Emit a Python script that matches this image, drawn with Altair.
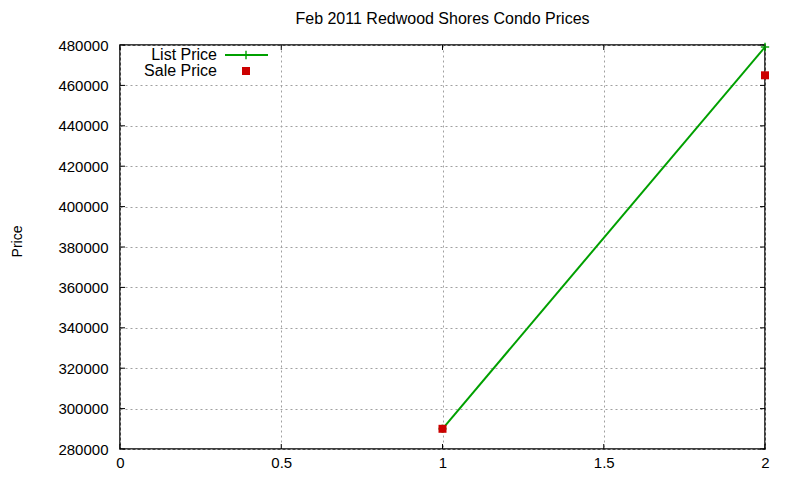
"""Feb 2011 Redwood Shores condo prices, gnuplot look."""

import pandas as pd
import altair as alt

# data
units = [1, 2]
list_price = [290000, 479000]
sale_price = [290000, 465000]

x_ticks = [0, 0.5, 1, 1.5, 2]
y_ticks = list(range(280000, 480001, 20000))

FONT = "Liberation Sans"
GREEN = "#00a000"
RED = "#cc0000"
W, H = 645, 404

df = pd.DataFrame({"unit": units, "list": list_price, "sale": sale_price})
xt = pd.DataFrame({"t": x_ticks})
yt = pd.DataFrame({"t": y_ticks})

xscale = alt.Scale(domain=[0, 2], nice=False)
yscale = alt.Scale(domain=[280000, 480000], nice=False, zero=False)

xaxis = alt.Axis(values=x_ticks, title=None, labelPadding=6, format="~g", labelFlush=False)
yaxis = alt.Axis(
    values=y_ticks, title="Price", labelPadding=12, format="d", labelFlush=False,
    titleX=-99, titleY=196, titleFontSize=14, titleAlign="center",
    titleBaseline="alphabetic",
)

base = alt.Chart(df)

line = base.mark_line(color=GREEN, strokeWidth=2, clip=True).encode(
    x=alt.X("unit:Q", scale=xscale, axis=xaxis),
    y=alt.Y("list:Q", scale=yscale, axis=yaxis),
)
plus = base.mark_point(
    shape="M-1,0L1,0M0,-1L0,1", color=GREEN, size=70, strokeWidth=2
).encode(
    x=alt.X("unit:Q", scale=xscale, axis=xaxis),
    y=alt.Y("list:Q", scale=yscale, axis=yaxis),
)
sale = base.mark_square(color=RED, size=64, opacity=1).encode(
    x=alt.X("unit:Q", scale=xscale, axis=xaxis),
    y=alt.Y("sale:Q", scale=yscale, axis=yaxis),
)

# inward, mirrored ticks
tick_len = 5
yl = alt.Chart(yt).mark_rule(color="black").encode(
    y=alt.Y("t:Q", scale=yscale, axis=yaxis), x=alt.value(0), x2=alt.value(tick_len)
)
yr = alt.Chart(yt).mark_rule(color="black").encode(
    y=alt.Y("t:Q", scale=yscale, axis=yaxis), x=alt.value(W - tick_len), x2=alt.value(W)
)
xb = alt.Chart(xt).mark_rule(color="black").encode(
    x=alt.X("t:Q", scale=xscale, axis=xaxis), y=alt.value(H - tick_len), y2=alt.value(H)
)
xtop = alt.Chart(xt).mark_rule(color="black").encode(
    x=alt.X("t:Q", scale=xscale, axis=xaxis), y=alt.value(0), y2=alt.value(tick_len)
)

# key, top left inside the frame
key = pd.DataFrame({"label": ["List Price", "Sale Price"], "ky": [10, 26]})
key_text = alt.Chart(key).mark_text(
    align="right", baseline="middle", font=FONT, fontSize=16, color="black"
).encode(x=alt.value(97), y=alt.Y("ky:Q", scale=None, axis=yaxis), text="label:N")
key_line = alt.Chart(key.iloc[:1]).mark_rule(color=GREEN, strokeWidth=2).encode(
    x=alt.value(105), x2=alt.value(148), y=alt.Y("ky:Q", scale=None, axis=yaxis)
)
key_plus = alt.Chart(key.iloc[:1]).mark_point(
    shape="M-1,0L1,0M0,-1L0,1", color=GREEN, size=70, strokeWidth=2
).encode(x=alt.value(126), y=alt.Y("ky:Q", scale=None, axis=yaxis))
key_sq = alt.Chart(key.iloc[1:]).mark_square(color=RED, size=64, opacity=1).encode(
    x=alt.value(126), y=alt.Y("ky:Q", scale=None, axis=yaxis)
)

chart = (
    alt.layer(line, yl, yr, xb, xtop, plus, sale, key_text, key_line, key_plus, key_sq)
    .properties(
        width=W,
        height=H,
        background="white",
        autosize=alt.AutoSizeParams(type="none"),
        padding={"left": 112, "top": 37, "right": 27, "bottom": 23},
        title=alt.TitleParams(
            "Feb 2011 Redwood Shores Condo Prices",
            font=FONT,
            fontSize=16,
            fontWeight="normal",
            color="black",
            offset=11,
        ),
    )
    .configure_view(stroke="black", strokeWidth=1.5)
    .configure_axis(
        labelFont=FONT,
        labelFontSize=15,
        labelColor="black",
        titleFont=FONT,
        titleFontSize=15,
        titleFontWeight="normal",
        titleColor="black",
        domain=False,
        ticks=False,
        grid=True,
        gridColor="#a0a0a0",
        gridDash=[2, 3],
        gridOpacity=1,
    )
)

chart.save("out.html", embed_options={"renderer": "svg", "actions": False})
